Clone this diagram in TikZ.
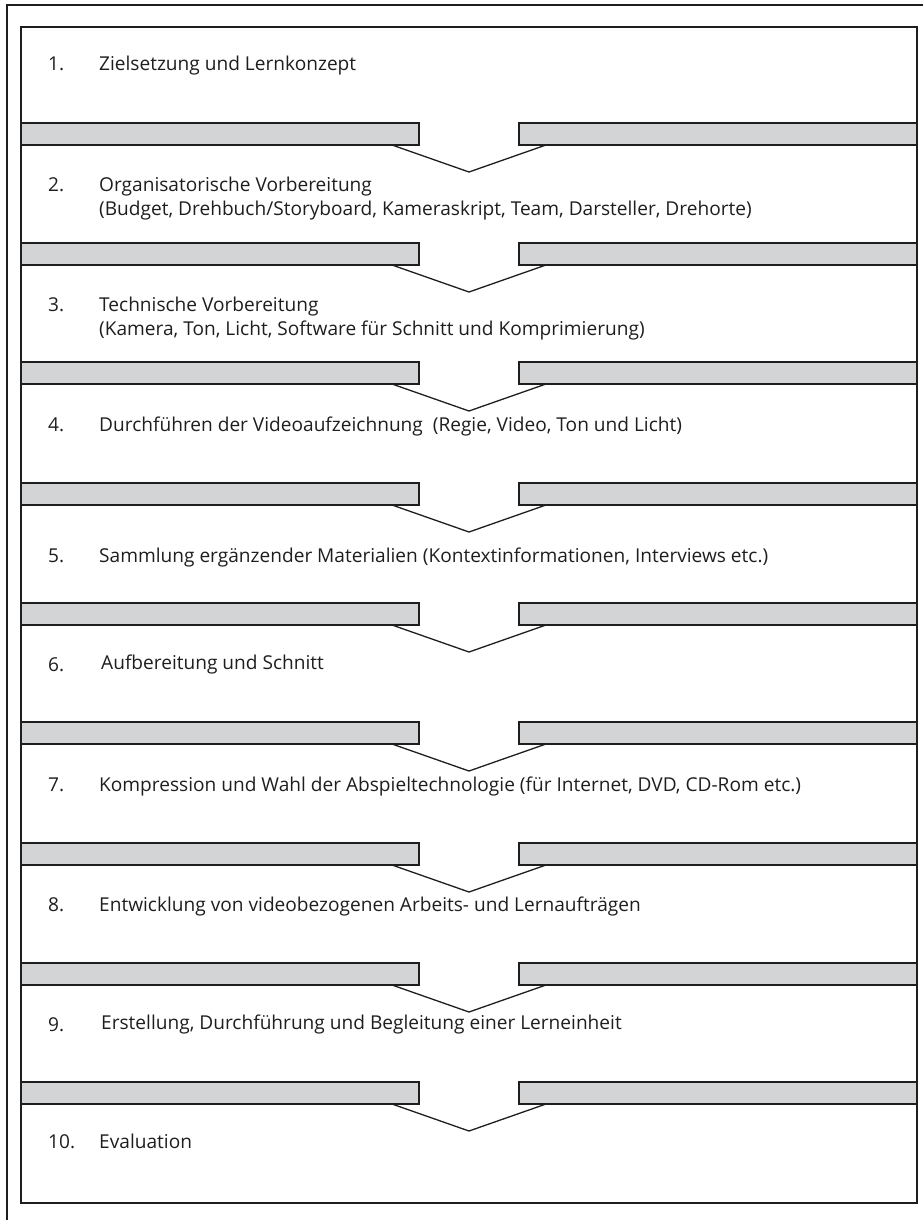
\documentclass[tikz,border=0pt]{standalone}
\usepackage{fontspec}
\setmainfont{Open Sans}
\usepackage{tikz}

\begin{document}
\begin{tikzpicture}[x=1pt, y=-1pt,
  num/.style={anchor=base west, font=\fontsize{19.1}{24}\selectfont, text=lineDark, inner sep=0pt},
  voce/.style={anchor=base west, align=left, font=\fontsize{19.1}{24}\selectfont, text=lineDark, inner sep=0pt},
  barra/.style={fill=colBar, draw=lineDark, line width=1.4pt},
  freccia/.style={draw=lineDark, line width=1.3pt, line join=miter}]

% Colori
\definecolor{colBar}{HTML}{D3D4D6}
\definecolor{lineDark}{HTML}{1E1E1E}

\useasboundingbox (0,0) rectangle (923,1220);

% Cornice esterna
\draw[lineDark, line width=1.5pt] (7,1220) -- (7,5) -- (923,5);

% Riquadro interno
\draw[lineDark, line width=2.2pt] (21,27) rectangle (917,1203);

% Barra grigia con freccia a V (y = bordo superiore)
\def\barra#1{%
  \path[barra] (21,#1) rectangle (419,#1+22);
  \path[barra] (519,#1) rectangle (917,#1+22);
  \draw[freccia] (392,#1+22) -- (469,#1+49) -- (546,#1+22);
}

% Barre tra le fasi
\barra{123}
\barra{243}
\barra{362}
\barra{483}
\barra{603}
\barra{722}
\barra{843}
\barra{963}
\barra{1082}

% Fase 1
\node[num] (n1) at (48,71) {1.};
\node[voce] (t1) at (99,71) {Zielsetzung und Lernkonzept};

% Fase 2 (due righe: base dell'ultima riga)
\node[num] (n2) at (48,191) {2.};
\node[voce] (t2) at (99,215) {Organisatorische Vorbereitung\\(Budget, Drehbuch/Storyboard, Kameraskript, Team, Darsteller, Drehorte)};

% Fase 3
\node[num] (n3) at (48,311) {3.};
\node[voce] (t3) at (99,335) {Technische Vorbereitung\\(Kamera, Ton, Licht, Software f\"ur Schnitt und Komprimierung)};

% Fase 4
\node[num] (n4) at (48,431) {4.};
\node[voce] (t4) at (99,431) {Durchf\"uhren der Videoaufzeichnung\ \ (Regie, Video, Ton und Licht)};

% Fase 5
\node[num] (n5) at (48,562) {5.};
\node[voce] (t5) at (99,562) {Sammlung erg\"anzender Materialien (Kontextinformationen, Interviews etc.)};

% Fase 6
\node[num] (n6) at (48,671) {6.};
\node[voce] (t6) at (101,669) {Aufbereitung und Schnitt};

% Fase 7
\node[num] (n7) at (48,791) {7.};
\node[voce] (t7) at (99,791) {Kompression und Wahl der Abspieltechnologie (f\"ur Internet, DVD, CD-Rom etc.)};

% Fase 8
\node[num] (n8) at (48,911) {8.};
\node[voce] (t8) at (99,911) {Entwicklung von videobezogenen Arbeits- und Lernauftr\"agen};

% Fase 9
\node[num] (n9) at (48,1031) {9.};
\node[voce] (t9) at (101,1029) {Erstellung, Durchf\"uhrung und Begleitung einer Lerneinheit};

% Fase 10
\node[num] (n10) at (48,1148) {10.};
\node[voce] (t10) at (99,1148) {Evaluation};

\end{tikzpicture}
\end{document}
